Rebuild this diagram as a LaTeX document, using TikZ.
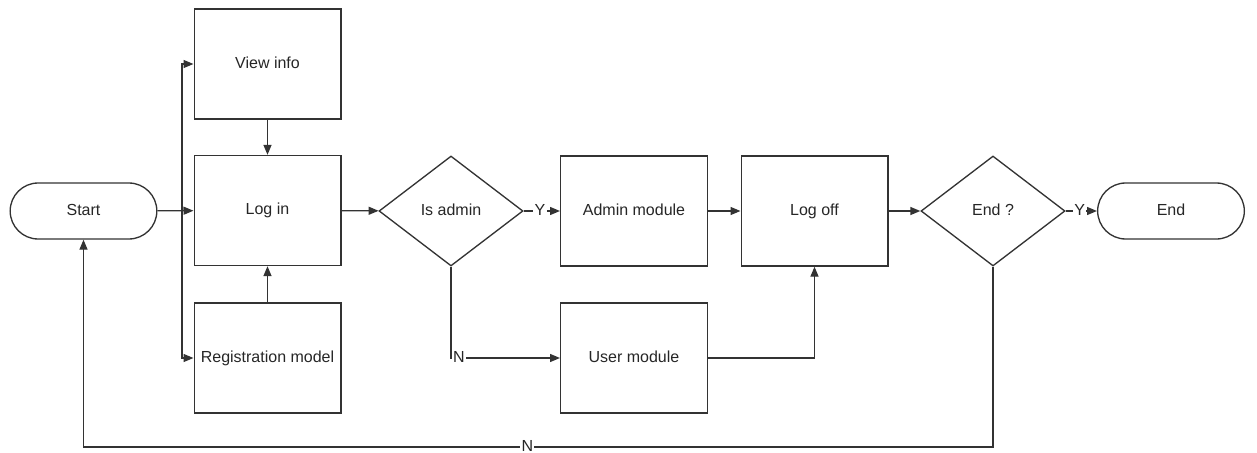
\documentclass[tikz,border=0pt]{standalone}
\usepackage{fontspec}
\setmainfont{Liberation Sans}
\usetikzlibrary{arrows.meta, shapes.geometric, shapes.misc}

\begin{document}
\begin{tikzpicture}[x=0.75pt, y=-0.75pt,
	every node/.style={font=\fontsize{12}{14}\selectfont, text=black!85, text height=9pt, text depth=2.5pt},
	line width=1pt, draw=black!80,
	>={Triangle[length=7.5pt, width=6pt]},
	box/.style={draw, rectangle, minimum width=110pt, minimum height=82.5pt, inner sep=0pt},
	terminal/.style={draw, rounded rectangle, minimum width=110pt, minimum height=42pt, inner sep=0pt},
	decision/.style={draw, diamond, minimum width=108pt, minimum height=82.5pt, inner sep=0pt},
	lbl/.style={fill=white, inner sep=1pt}]

	\useasboundingbox (0,0) rectangle (1257,453);

	% left column
	\node[terminal] (start) at (83.5,211) {Start};
	\node[box] (view) at (267.5,64) {View info};
	\node[box] (login) at (267.5,210.5) {Log in};
	\node[box] (reg) at (267.5,358) {Registration model};

	% middle
	\node[decision] (isadmin) at (451,211) {Is admin};
	\node[box] (admin) at (634,211) {Admin module};
	\node[box] (user) at (634,358) {User module};

	% right
	\node[box] (logoff) at (814.5,211) {Log off};
	\node[decision] (endq) at (993,211) {End ?};
	\node[terminal] (end) at (1171,211) {End};

	\coordinate (split) at (182,211);
	\coordinate (back) at (83.5,447);

	\draw[->] (start) -- (login);
	\draw[->] (split) |- (view);
	\draw[->] (split) |- (reg);
	\draw[->] (view) -- (login);
	\draw[->] (reg) -- (login);
	\draw[->] (login) -- (isadmin);
	\draw[->] (isadmin) -- node[lbl, pos=0.45] {Y} (admin);
	\draw[->] (isadmin.south) |- node[lbl, pos=0.5, anchor=west] {N} (user);
	\draw[->] (admin) -- (logoff);
	\draw[->] (user) -| (logoff);
	\draw[->] (logoff) -- (endq);
	\draw[->] (endq) -- node[lbl, pos=0.45] {Y} (end);
	\draw[->] (endq.south) |- node[lbl, pos=0.756] {N} (back) -- (start);

\end{tikzpicture}
\end{document}
